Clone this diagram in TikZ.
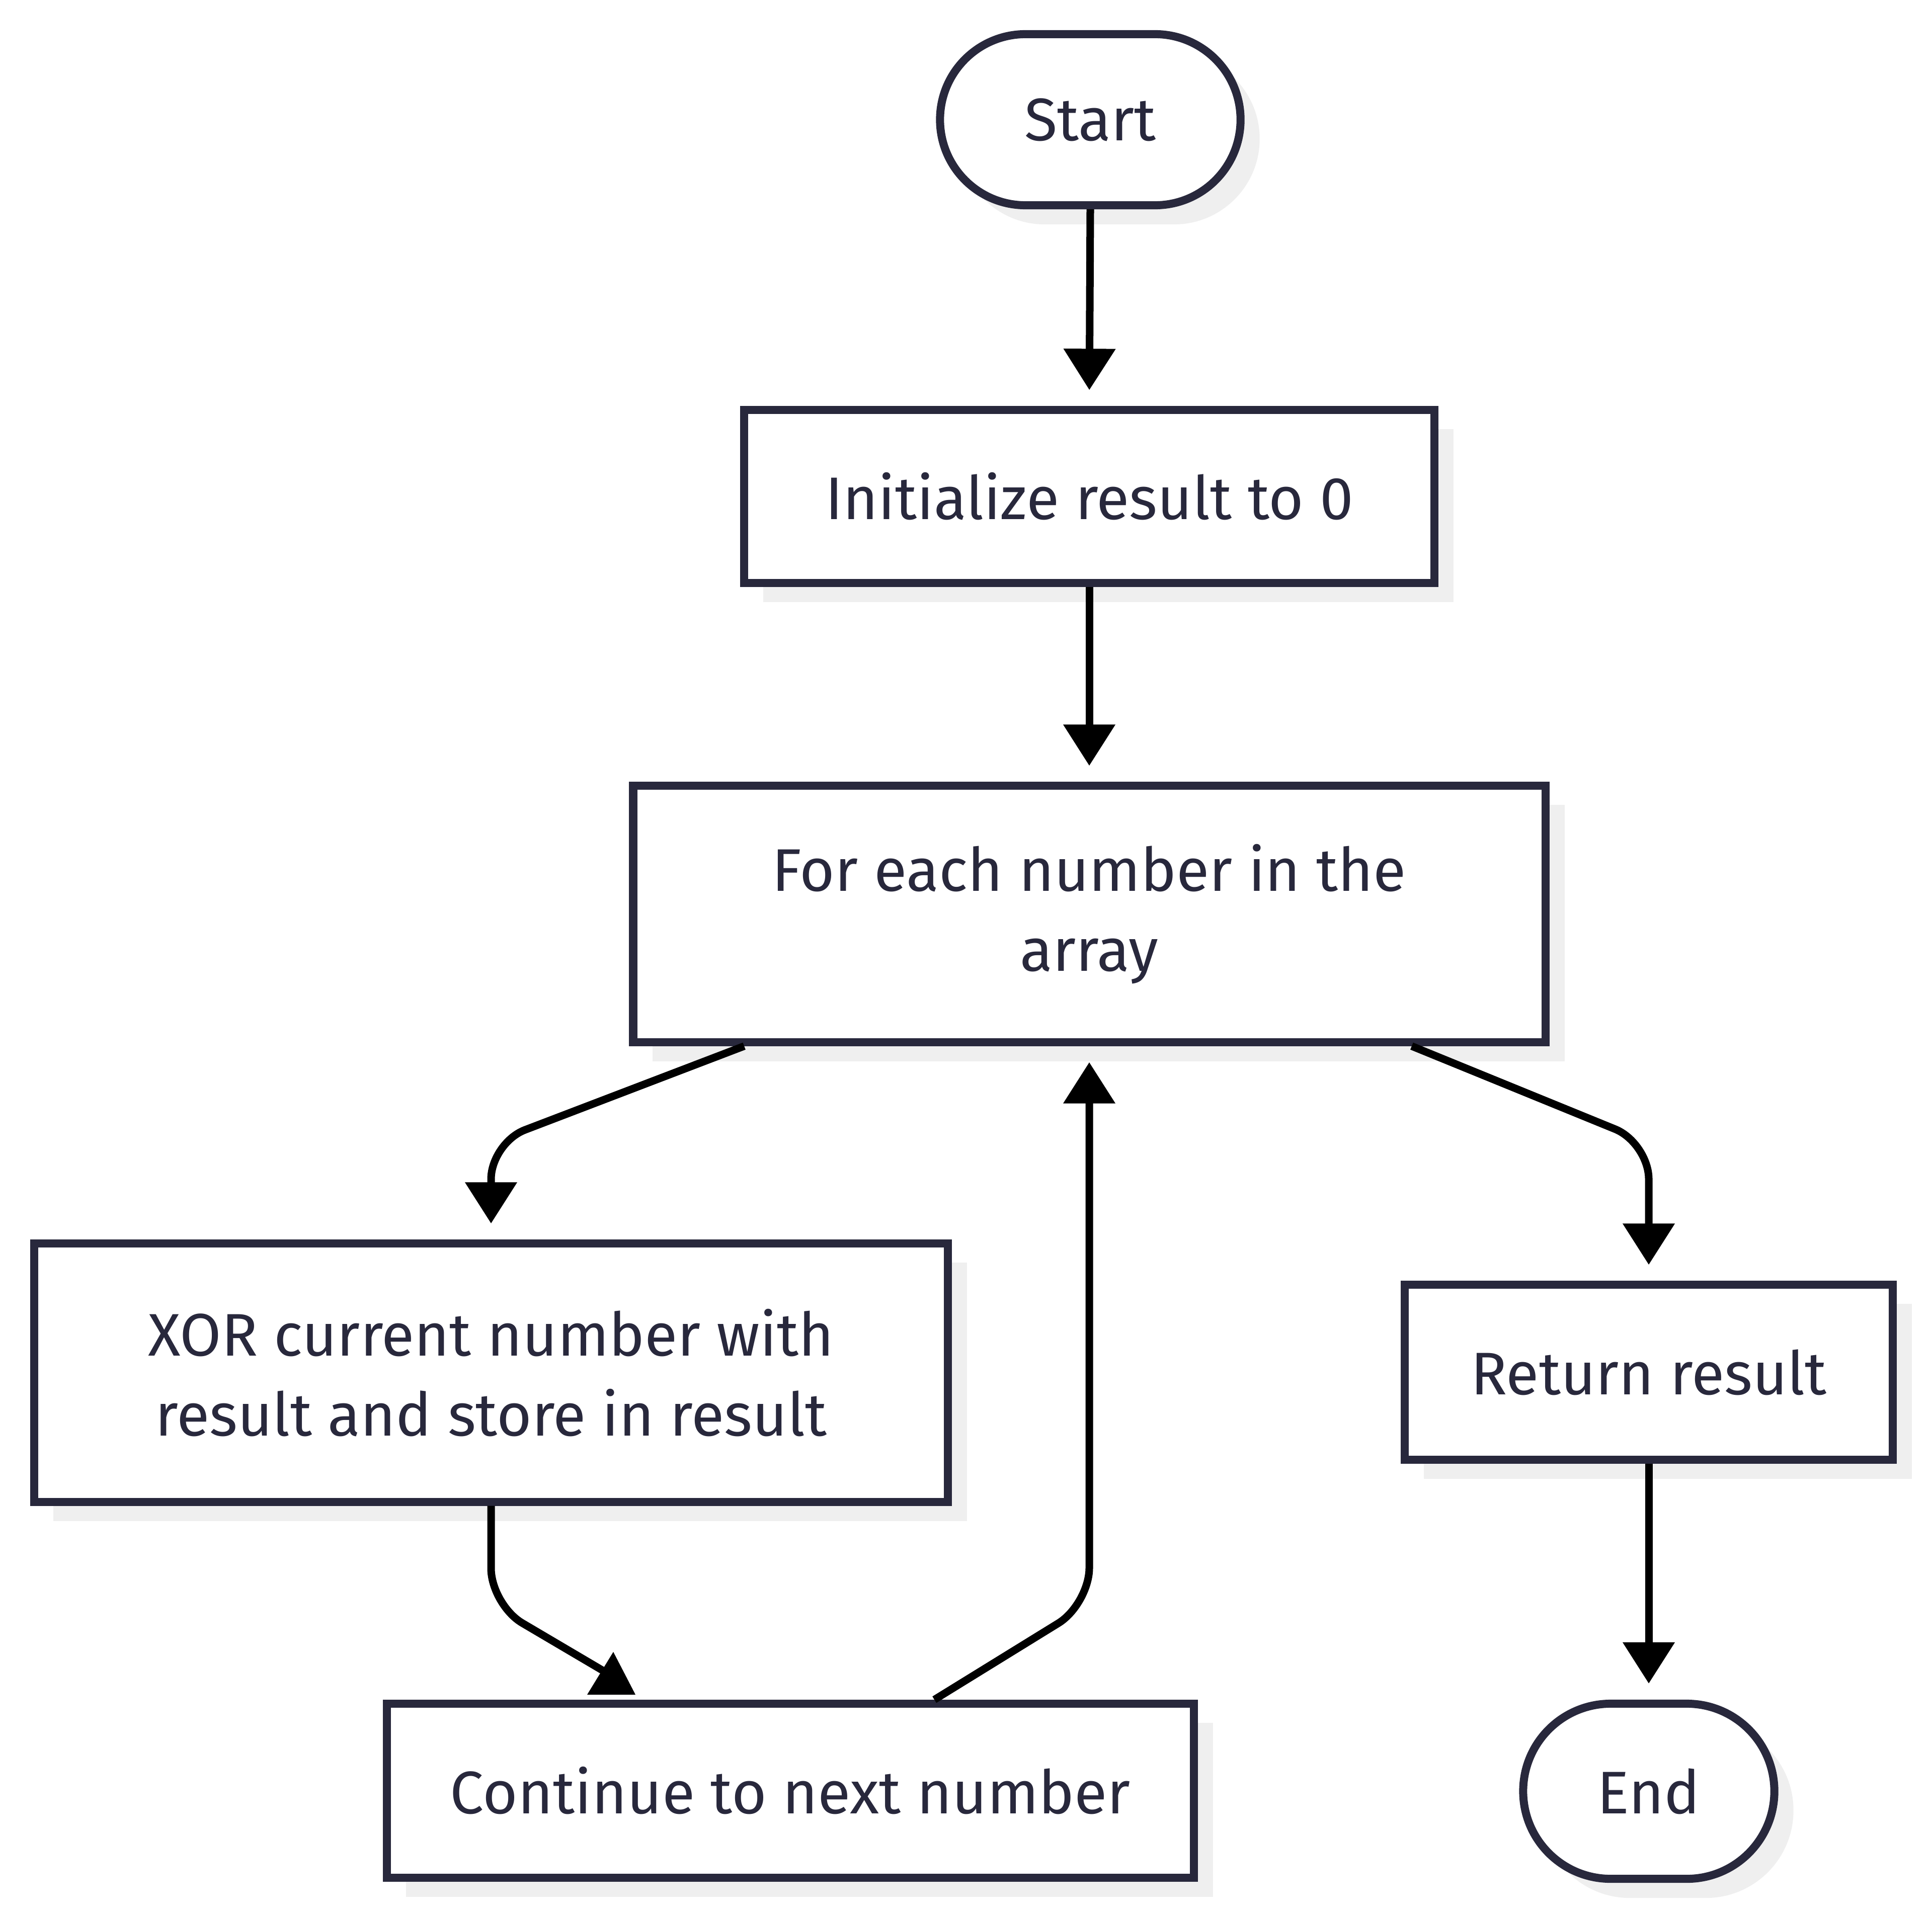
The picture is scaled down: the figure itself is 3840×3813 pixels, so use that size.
\documentclass[tikz,border=0pt]{standalone}
\usepackage{fontspec}
\setmainfont{Fira Sans}
\usetikzlibrary{arrows.meta,shapes.misc,shadows}
\definecolor{ink}{HTML}{28283C}
\definecolor{shade}{HTML}{EFEFEF}
\begin{document}
\begin{tikzpicture}[x=0.01cm,y=-0.01cm,
  base/.style={draw=ink, line width=0.16cm, fill=white, text=ink,
    font=\fontsize{34}{45}\selectfont, align=center, inner sep=0pt,
    drop shadow={shadow xshift=0.38cm, shadow yshift=-0.38cm, fill=shade, opacity=1}},
  proc/.style={base, rectangle},
  term/.style={base, rounded rectangle},
  conn/.style={draw=black, line width=0.15cm, -{Triangle[length=0.82cm,width=1cm]},
    shorten >=0.32cm, rounded corners=0.72cm},
  plain/.style={draw=black, line width=0.15cm, rounded corners=0.72cm},
]
\useasboundingbox (0,0) rectangle (3840,3813);

\node[term, minimum width=5.97cm, minimum height=3.40cm] (start) at (2167,238) {Start};
\node[proc, minimum width=13.71cm, minimum height=3.43cm] (init) at (2165,987) {Initialize result to 0};
\node[proc, minimum width=18.12cm, minimum height=5.09cm] (loop) at (2165,1817) {For each number in the\\array};
\node[proc, minimum width=18.15cm, minimum height=5.13cm] (xor) at (976,2729) {XOR current number with\\result and store in result};
\node[proc, minimum width=9.69cm, minimum height=3.47cm] (ret) at (3277,2728) {Return result};
\node[proc, minimum width=16.03cm, minimum height=3.46cm] (cont) at (1571,3560) {Continue to next number};
\node[term, minimum width=4.99cm, minimum height=3.48cm] (end) at (3277,3561) {End};

\coordinate (c1) at (976,2272);
\coordinate (c2) at (3277,2272);
\coordinate (c3) at (976,3190);
\coordinate (c4) at (2165,3189);
\coordinate (tipC) at (1210,3328);

\draw[conn] (start.south) -- (init.north);
\draw[conn] (init.south) -- (loop.north);
\draw[conn] ([xshift=2.285cm]loop.south west) -- (c1) -- (xor.north);
\draw[conn] ([xshift=-2.735cm]loop.south east) -- (c2) -- (ret.north);
\draw[plain] (xor.south) -- (c3) -- (tipC);
\fill[black] (1167,3369) -- (1263,3369) -- (1219,3284) -- cycle;
\draw[conn] ([xshift=10.955cm]cont.north west) -- (c4) -- (loop.south);
\draw[conn] (ret.south) -- (end.north);
\end{tikzpicture}
\end{document}
